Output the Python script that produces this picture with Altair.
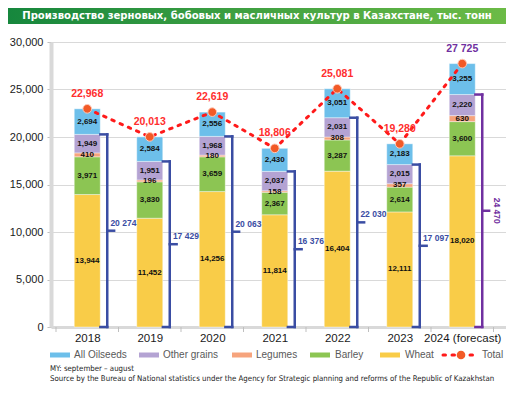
import altair as alt
import pandas as pd

years = ["2018", "2019", "2020", "2021", "2022", "2023", "2024 (forecast)"]
wheat = [13944, 11452, 14256, 11814, 16404, 12111, 18020]
barley = [3971, 3830, 3659, 2367, 3287, 2614, 3600]
legumes = [410, 196, 180, 158, 308, 357, 630]
other_grains = [1949, 1951, 1968, 2037, 2031, 2015, 2220]
oilseeds = [2694, 2584, 2556, 2430, 3051, 2183, 3255]
totals = [22968, 20013, 22619, 18806, 25081, 19280, 27725]
grain_totals = [20274, 17429, 20063, 16376, 22030, 17097, 24470]
total_labels = ["22,968", "20,013", "22,619", "18,806", "25,081", "19,280", "27 725"]
grain_labels = ["20 274", "17 429", "20 063", "16 376", "22 030", "17 097", "24 470"]

crops = ["Wheat", "Barley", "Legumes", "Other grains", "All Oilseeds"]
crop_values = [wheat, barley, legumes, other_grains, oilseeds]
crop_colors = ["#F9CC48", "#8CC553", "#F6A47D", "#B4A3D3", "#6DBFEA"]

title_text = "Производство зерновых, бобовых и масличных культур в Казахстане, тыс. тонн"
note1 = "MY: september – august"
note2 = "Source by the Bureau of National statistics under the Agency for Strategic planning and reforms of the Republic of Kazakhstan"

W, H = 455, 285
COND = "DejaVu Sans Condensed"
SANS = "Liberation Sans, Arial, sans-serif"
n = len(years)

# stacked segments
rows = []
for i in range(n):
    base = 0
    for crop, vals in zip(crops, crop_values):
        v = vals[i]
        rows.append(dict(i=i, crop=crop, y0=base, y1=base + v, mid=base + v / 2, lab=f"{v:,}"))
        base += v
seg = pd.DataFrame(rows)

tot = pd.DataFrame(dict(i=list(range(n)), total=totals, tlab=total_labels,
                        tc=["#FF2E2E"] * (n - 1) + ["#7030A0"]))

br = pd.DataFrame(dict(i=list(range(n)), g=grain_totals, glab=grain_labels))
br["zero"] = 0
br["mid"] = br["g"] / 2
br["xb"] = br["i"] + 0.21
br["xv"] = br["i"] + 0.32
br["xn"] = br["i"] + 0.43
br["xl"] = br["i"] + 0.37
br["xr"] = br["i"] + 0.55
br["bc"] = ["#3A4DA3"] * (n - 1) + ["#7030A0"]

bnd = pd.DataFrame(dict(b=[k - 0.5 for k in range(n + 1)]))

xscale = alt.Scale(domain=[-0.5, 6.62], nice=False, zero=False)
yscale = alt.Scale(domain=[0, 30000], nice=False)
label_expr = "[" + ",".join(f"'{y}'" for y in years) + "][datum.value]"

xaxis = alt.Axis(values=list(range(n)), labelExpr=label_expr, ticks=False, grid=False,
                 domainColor="#d9d9d9", domainWidth=3, labelFontSize=11.5, labelFont=SANS,
                 labelColor="#1a1a1a", labelPadding=5, labelOverlap=False, labelFlush=False, title=None)
yaxis = alt.Axis(values=list(range(0, 30001, 5000)), format=",d", labelFontSize=11, labelFont=SANS,
                 labelColor="#1a1a1a", labelPadding=4, tickSize=4, tickColor="#bfbfbf",
                 domainColor="#d9d9d9", domainWidth=4, gridColor="#d9d9d9", title=None)

bars = alt.Chart(seg).mark_bar(size=26, stroke="white", strokeWidth=0.4).encode(
    x=alt.X("i:Q", scale=xscale, axis=xaxis),
    y=alt.Y("y0:Q", scale=yscale, axis=yaxis),
    y2="y1:Q",
    color=alt.Color("crop:N", scale=alt.Scale(domain=crops, range=crop_colors), legend=None),
)
seg_text = alt.Chart(seg).mark_text(font=SANS, fontSize=8, fontWeight="bold", color="#111111").encode(
    x="i:Q", y="mid:Q", text="lab:N")

ticks = alt.Chart(bnd).mark_rule(color="#bfbfbf").encode(
    x="b:Q", y=alt.value(H), y2=alt.value(H + 5))

rule_style = dict(strokeWidth=2.5, strokeCap="square")
vert = alt.Chart(br).mark_rule(**rule_style).encode(
    x="xv:Q", y="zero:Q", y2="g:Q", color=alt.Color("bc:N", scale=None))
top = alt.Chart(br).mark_rule(**rule_style).encode(
    x="xb:Q", x2="xv:Q", y="g:Q", color=alt.Color("bc:N", scale=None))
bot = alt.Chart(br).mark_rule(**rule_style).encode(
    x="xb:Q", x2="xv:Q", y="zero:Q", color=alt.Color("bc:N", scale=None))
nub = alt.Chart(br).mark_rule(**rule_style).encode(
    x="xv:Q", x2="xn:Q", y="mid:Q", color=alt.Color("bc:N", scale=None))
blab = alt.Chart(br).transform_filter(f"datum.i < {n-1}").mark_text(
    align="left", dy=-8, font=SANS, fontSize=8.5, fontWeight="bold").encode(
    x="xl:Q", y="mid:Q", text="glab:N", color=alt.Color("bc:N", scale=None))
blab_last = alt.Chart(br).transform_filter(f"datum.i == {n-1}").mark_text(
    angle=90, align="center", baseline="middle", font=SANS, fontSize=8.5, fontWeight="bold").encode(
    x="xr:Q", y="mid:Q", text="glab:N", color=alt.Color("bc:N", scale=None))

line = alt.Chart(tot).mark_line(color="#FF1A1A", strokeWidth=3, strokeDash=[2.5, 6.5], strokeCap="round").encode(
    x="i:Q", y="total:Q")
pts = alt.Chart(tot).mark_circle(size=75, color="#F25A27", stroke="#FFC9B8", strokeWidth=1, opacity=1).encode(
    x="i:Q", y="total:Q")
tlab = alt.Chart(tot).mark_text(dy=-15, font=SANS, fontSize=10.5, fontWeight="bold").encode(
    x="i:Q", y="total:Q", text="tlab:N", color=alt.Color("tc:N", scale=None))

one = pd.DataFrame({"a": [0]})
banner = alt.Chart(one).mark_rect(
    color=alt.Gradient(gradient="linear",
                       stops=[alt.GradientStop(color="#16873D", offset=0),
                              alt.GradientStop(color="#6CBB46", offset=1)],
                       x1=0, x2=1, y1=0, y2=0)).encode(
    x=alt.value(-43), x2=alt.value(455), y=alt.value(-34), y2=alt.value(-18))
title = alt.Chart(one).mark_text(text=title_text, font=COND, fontSize=11.2, fontWeight="bold",
                                 color="white", align="center", baseline="middle").encode(
    x=alt.value(206), y=alt.value(-26))

# legend (layout positions in plot pixels)
leg_items = [("All Oilseeds", -1, 23), ("Other grains", 88, 112), ("Legumes", 181, 205),
             ("Barley", 259, 284), ("Wheat", 329, 354)]
LY = 313
legend_layers = []
col_of = dict(zip(crops, crop_colors))
for name, sx, lx in leg_items:
    legend_layers.append(alt.Chart(one).mark_rect(color=col_of[name]).encode(
        x=alt.value(sx), x2=alt.value(sx + 20), y=alt.value(LY - 2.5), y2=alt.value(LY + 2.5)))
    legend_layers.append(alt.Chart(one).mark_text(text=name, font=SANS, fontSize=10, color="#595959",
                                                  align="left", baseline="middle").encode(
        x=alt.value(lx), y=alt.value(LY)))
legend_layers.append(alt.Chart(one).mark_rule(color="#FF1A1A", strokeWidth=3, strokeDash=[2.5, 6.5],
                                              strokeCap="round").encode(
    x=alt.value(392), x2=alt.value(426), y=alt.value(LY)))
legend_layers.append(alt.Chart(one).mark_circle(size=75, color="#F25A27", opacity=1).encode(
    x=alt.value(410), y=alt.value(LY)))
legend_layers.append(alt.Chart(one).mark_text(text="Total", font=SANS, fontSize=10, color="#595959",
                                              align="left", baseline="middle").encode(
    x=alt.value(431), y=alt.value(LY)))

n1 = alt.Chart(one).mark_text(text=note1, font=COND, fontSize=7.8, color="#222222",
                              align="left", baseline="middle").encode(x=alt.value(-1), y=alt.value(327))
n2 = alt.Chart(one).mark_text(text=note2, font=COND, fontSize=7.8, color="#222222",
                              align="left", baseline="middle").encode(x=alt.value(-1), y=alt.value(337))

chart = alt.layer(
    bars, ticks, seg_text, vert, top, bot, nub, blab, blab_last, line, pts, tlab,
    banner, title, *legend_layers, n1, n2
).properties(
    width=W, height=H,
    autosize=alt.AutoSizeParams(type="none"),
    padding={"left": 43, "top": 34, "right": 0, "bottom": 57},
).configure_view(stroke=None)

chart.save("out.html", embed_options={"renderer": "svg", "actions": False})
